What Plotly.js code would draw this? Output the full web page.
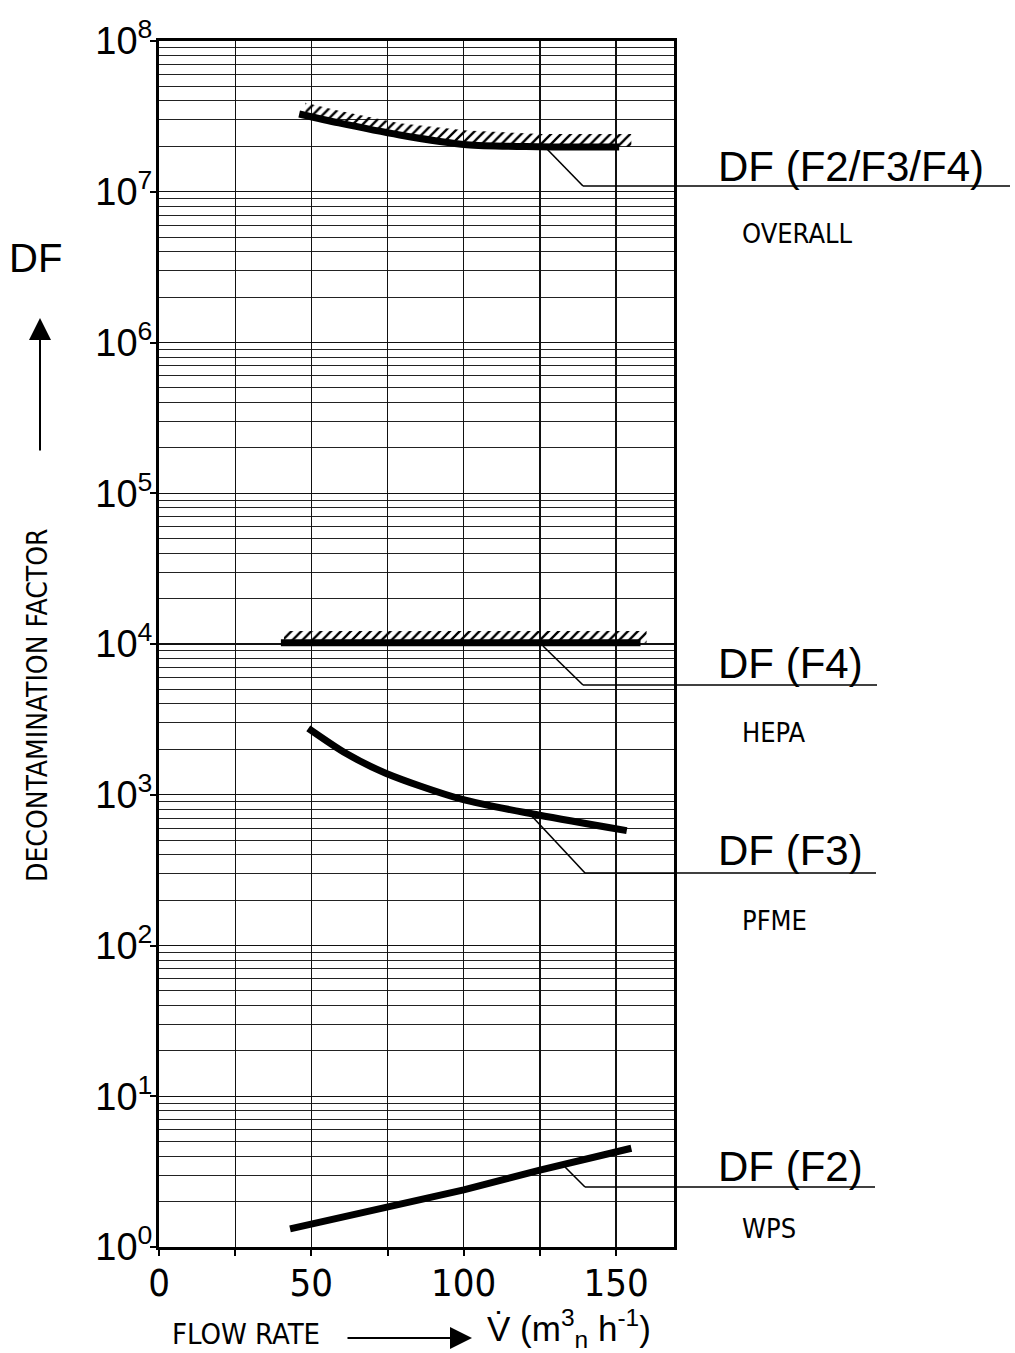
<!DOCTYPE html>
<html>
<head>
<meta charset="utf-8">
<script src="https://cdn.plot.ly/plotly-3.0.1.min.js"></script>
<style>html,body{margin:0;padding:0;background:#fff;}#chart{width:1015px;height:1353px;}</style>
</head>
<body>
<div id="chart"></div>
<script>
// ---- data ----
const overallX = [46, 59, 79, 101, 125, 151];
const overallDF = [3.28e7, 2.86e7, 2.38e7, 2.05e7, 1.99e7, 1.98e7];
const overallHatchX = [48, 59, 79, 101, 125, 155];
const overallHatchLow = [3.2e7, 2.86e7, 2.38e7, 2.05e7, 1.99e7, 1.98e7];
const overallHatchHigh = [3.9e7, 3.45e7, 2.85e7, 2.55e7, 2.42e7, 2.42e7];

const hepaX = [40, 158];
const hepaDF = [1.02e4, 1.02e4];
const hepaHatchX = [41, 160];
const hepaHatchLow = [1.02e4, 1.02e4];
const hepaHatchHigh = [1.22e4, 1.22e4];

const pfmeX = [49, 61.6, 74.4, 99.3, 124.5, 153.5];
const pfmeDF = [2760, 1870, 1390, 934, 734, 578];

const wpsX = [43, 72, 100, 125, 155];
const wpsDF = [1.32, 1.8, 2.39, 3.24, 4.52];

const xTickVals = [0, 25, 50, 75, 100, 125, 150];
const xTickText = ['0', '', '50', '', '100', '', '150'];
const yTickVals = [1, 10, 100, 1e3, 1e4, 1e5, 1e6, 1e7, 1e8];
const yTickText = ['10<sup>0</sup>', '10<sup>1</sup>', '10<sup>2</sup>', '10<sup>3</sup>', '10<sup>4</sup>',
                   '10<sup>5</sup>', '10<sup>6</sup>', '10<sup>7</sup>', '10<sup>8</sup>'];

const seriesLabels = ['DF (F2/F3/F4)', 'DF (F4)', 'DF (F3)', 'DF (F2)'];
const seriesSubLabels = ['OVERALL', 'HEPA', 'PFME', 'WPS'];

// ---- layout geometry (pixels of the 1015x1353 page) ----
const W = 1015, H = 1353;
const PL = 159, PR = 674, PT = 41, PB = 1247;
const px = v => (v - PL) / (PR - PL);
const py = v => (PB - v) / (PB - PT);

const NARROW = '"Liberation Sans Narrow", "DejaVu Sans Condensed", "Arial Narrow", sans-serif';
const REG = '"Liberation Sans", Arial, sans-serif';
const BLACK = '#000';

function hatchPair(x, lo, hi) {
  return [
    {x: x, y: lo, mode: 'lines', line: {width: 0, color: 'rgba(0,0,0,0)'}, hoverinfo: 'skip', showlegend: false},
    {x: x, y: hi, mode: 'lines', line: {width: 0, color: 'rgba(0,0,0,0)'}, fill: 'tonexty',
     fillcolor: 'rgba(0,0,0,0)',
     fillpattern: {shape: '/', size: 7, solidity: 0.33, fgcolor: BLACK, bgcolor: 'rgba(0,0,0,0)'},
     hoverinfo: 'skip', showlegend: false}
  ];
}
function thick(x, y, shape) {
  return {x: x, y: y, mode: 'lines', line: {width: 7, color: BLACK, shape: shape, smoothing: 0.8},
          showlegend: false};
}

const traces = [
  ...hatchPair(overallHatchX, overallHatchLow, overallHatchHigh),
  thick(overallX, overallDF, 'spline'),
  ...hatchPair(hepaHatchX, hepaHatchLow, hepaHatchHigh),
  thick(hepaX, hepaDF, 'linear'),
  thick(pfmeX, pfmeDF, 'spline'),
  thick(wpsX, wpsDF, 'linear')
];

// leader lines: [startX, startY, elbowX, elbowY, endX] in pixels
const leaders = [
  [546, 148, 583, 186, 1010],
  [543, 646, 583, 685, 877],
  [528, 812, 585, 873, 876],
  [565, 1167, 585, 1187, 875]
];
const shapes = [];
leaders.forEach(l => {
  shapes.push({type: 'line', xref: 'paper', yref: 'paper', x0: px(l[0]), y0: py(l[1]), x1: px(l[2]), y1: py(l[3]),
               line: {color: BLACK, width: 1.6}});
  shapes.push({type: 'line', xref: 'paper', yref: 'paper', x0: px(l[2]), y0: py(l[3]), x1: px(l[4]), y1: py(l[3]),
               line: {color: BLACK, width: 1.6}});
});

const labelY = [166, 664, 851, 1166];
const subY = [233, 732, 920, 1228];
const annotations = [];
seriesLabels.forEach((t, i) => {
  annotations.push({text: t, xref: 'paper', yref: 'paper', x: px(716), y: py(labelY[i]),
                    xanchor: 'left', yanchor: 'middle', showarrow: false,
                    font: {family: REG, size: 42, color: BLACK}});
  annotations.push({text: seriesSubLabels[i], xref: 'paper', yref: 'paper', x: px(740), y: py(subY[i]),
                    xanchor: 'left', yanchor: 'middle', showarrow: false,
                    font: {family: NARROW, size: 27, color: BLACK}});
});
annotations.push({text: 'DF', xref: 'paper', yref: 'paper', x: px(35), y: py(258), xanchor: 'center', yanchor: 'middle',
                  showarrow: false, font: {family: REG, size: 40, color: BLACK}});
annotations.push({text: 'DECONTAMINATION FACTOR', xref: 'paper', yref: 'paper', x: px(38), y: py(705), textangle: -90,
                  xanchor: 'center', yanchor: 'middle', showarrow: false, font: {family: NARROW, size: 28, color: BLACK}});
annotations.push({text: '', xref: 'paper', yref: 'paper', x: px(40), y: py(318), ax: 0, ay: 134,
                  showarrow: true, arrowhead: 2, arrowsize: 2.2, arrowwidth: 2, arrowcolor: BLACK});
annotations.push({text: 'FLOW RATE', xref: 'paper', yref: 'paper', x: px(170), y: py(1334), xanchor: 'left', yanchor: 'middle',
                  showarrow: false, font: {family: NARROW, size: 29, color: BLACK}});
annotations.push({text: '', xref: 'paper', yref: 'paper', x: px(472), y: py(1338), ax: -126, ay: 0,
                  showarrow: true, arrowhead: 2, arrowsize: 2.2, arrowwidth: 2, arrowcolor: BLACK});
annotations.push({text: 'V\u0307 (m<sup>3</sup><sub>n</sub> h<sup>-1</sup>)', xref: 'paper', yref: 'paper',
                  x: px(485), y: py(1328), xanchor: 'left', yanchor: 'middle',
                  showarrow: false, font: {family: REG, size: 35, color: BLACK}});

const layout = {
  width: W, height: H,
  margin: {l: PL, r: W - PR, t: PT, b: H - PB, pad: 0},
  paper_bgcolor: '#fff', plot_bgcolor: '#fff',
  showlegend: false,
  xaxis: {
    range: [0, 169], tickmode: 'array', tickvals: xTickVals, ticktext: xTickText,
    ticks: 'outside', ticklen: 6, tickwidth: 2, tickcolor: BLACK, ticklabelstandoff: -6,
    showline: true, linewidth: 3, linecolor: BLACK, mirror: true,
    showgrid: true, gridcolor: '#111', gridwidth: 1.2, zeroline: false,
    tickfont: {family: NARROW, size: 38, color: BLACK}
  },
  yaxis: {
    type: 'log', range: [0, 8], tickmode: 'array', tickvals: yTickVals, ticktext: yTickText,
    ticks: 'outside', ticklen: 6, tickwidth: 2, tickcolor: BLACK, ticklabelstandoff: -10,
    showline: true, linewidth: 3, linecolor: BLACK, mirror: true,
    showgrid: true, gridcolor: '#111', gridwidth: 1.4, zeroline: false,
    tickfont: {family: REG, size: 38, color: BLACK},
    minor: {dtick: 'D1', showgrid: true, gridcolor: '#222', gridwidth: 1, ticks: ''}
  },
  shapes: shapes,
  annotations: annotations
};

Plotly.newPlot('chart', traces, layout, {staticPlot: true, displayModeBar: false});
</script>
</body>
</html>
